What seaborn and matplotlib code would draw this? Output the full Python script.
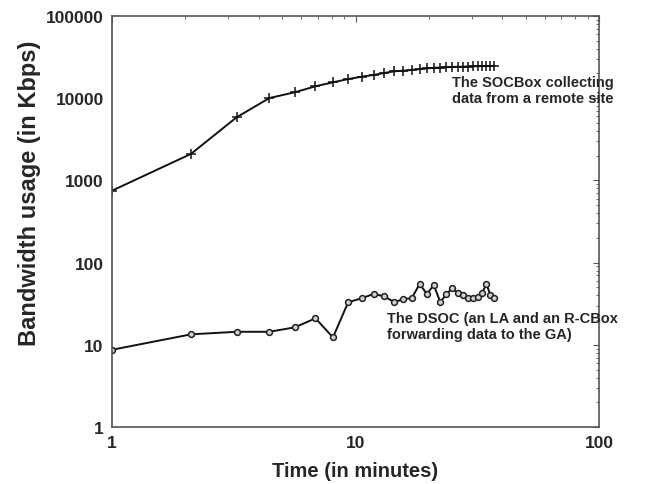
import numpy as np
import pandas as pd
import matplotlib
matplotlib.use("Agg")
import matplotlib.pyplot as plt
import matplotlib.ticker as mticker
import seaborn as sns

# Time positions (minutes)
time_min = [1.0, 2.11, 3.25, 4.43, 5.63, 6.85, 8.08, 9.33, 10.59, 11.86,
            13.14, 14.42, 15.72, 17.02, 18.33, 19.65, 20.97, 22.30, 23.63, 24.97,
            26.31, 27.65, 29.01, 30.37, 31.73, 33.09, 34.46, 35.84, 37.22]

socbox_kbps = [750, 2100, 5860, 10050, 11800, 13960, 15600, 17100, 18270, 19150,
               20270, 21250, 21620, 22030, 22660, 23110, 23400, 23600, 23800, 24000,
               24100, 24200, 24300, 24400, 24500, 24550, 24600, 24650, 24700]

dsoc_kbps = [8.7, 13.4, 14.4, 14.4, 16.3, 21.0, 12.3, 32.9, 36.8, 41.5,
             38.9, 32.9, 36.1, 36.8, 54.9, 41.5, 53.4, 32.9, 41.5, 48.7,
             42.7, 40.3, 36.8, 36.8, 37.8, 42.7, 54.9, 40.3, 36.8]

label_socbox = "The SOCBox collecting\ndata from a remote site"
label_dsoc = "The DSOC (an LA and an R-CBox\nforwarding data to the GA)"

x_ticks = [1, 10, 100]
y_ticks = [1, 10, 100, 1000, 10000, 100000]

sns.set_style("white")
plt.rcParams['font.family'] = ['Liberation Sans', 'DejaVu Sans']
plt.rcParams['font.weight'] = 'bold'

fig = plt.figure(figsize=(6.6, 4.85), dpi=100)
ax = fig.add_axes([112/660, 1-428/485, (599-112)/660, (428-17)/485])

df_s = pd.DataFrame({"t": time_min, "v": socbox_kbps})
df_d = pd.DataFrame({"t": time_min, "v": dsoc_kbps})

sns.lineplot(data=df_s, x="t", y="v", ax=ax, color="#111111", linewidth=1.4,
             marker="+", markersize=6.5, markeredgewidth=1.1, markeredgecolor="#111111",
             estimator=None, sort=False)
sns.lineplot(data=df_d, x="t", y="v", ax=ax, color="#111111", linewidth=1.4,
             marker="o", markersize=4.2, markeredgewidth=1.1, markeredgecolor="#222222",
             markerfacecolor="#d0d0d0", estimator=None, sort=False)

ax.set_xscale("log")
ax.set_yscale("log")
ax.set_xlim(1, 100)
ax.set_ylim(1, 100000)

ax.xaxis.set_major_locator(mticker.FixedLocator(x_ticks))
ax.xaxis.set_major_formatter(mticker.FixedFormatter([str(v) for v in x_ticks]))
ax.yaxis.set_major_locator(mticker.FixedLocator(y_ticks))
ax.yaxis.set_major_formatter(mticker.FixedFormatter([str(v) for v in y_ticks]))
ax.xaxis.set_minor_locator(mticker.LogLocator(base=10, subs=np.arange(2, 10)))
ax.yaxis.set_minor_locator(mticker.LogLocator(base=10, subs=np.arange(2, 10)))
ax.xaxis.set_minor_formatter(mticker.NullFormatter())
ax.yaxis.set_minor_formatter(mticker.NullFormatter())

ax.tick_params(which="both", direction="in", top=True, right=True, color="#555555")
ax.tick_params(which="major", length=4, width=0.8, labelsize=12.5, pad=6)
ax.tick_params(which="minor", length=2.5, width=0.6)
for lab in ax.get_xticklabels() + ax.get_yticklabels():
    lab.set_fontweight("bold")

for sp in ax.spines.values():
    sp.set_color("#555555")
    sp.set_linewidth(1.2)

ax.set_xlabel("Time (in minutes)", fontsize=14.5, fontweight="bold", labelpad=8)
ax.set_ylabel("Bandwidth usage (in Kbps)", fontsize=17, fontweight="bold")
ax.yaxis.set_label_coords(-0.146, 0.572)

ax.text(0.698, 0.856, label_socbox, transform=ax.transAxes, fontsize=10.5,
        fontweight="bold", va="top", ha="left", linespacing=1.15)
ax.text(0.565, 0.282, label_dsoc, transform=ax.transAxes, fontsize=10.5,
        fontweight="bold", va="top", ha="left", linespacing=1.15)

fig.savefig("out.png", dpi=100)
